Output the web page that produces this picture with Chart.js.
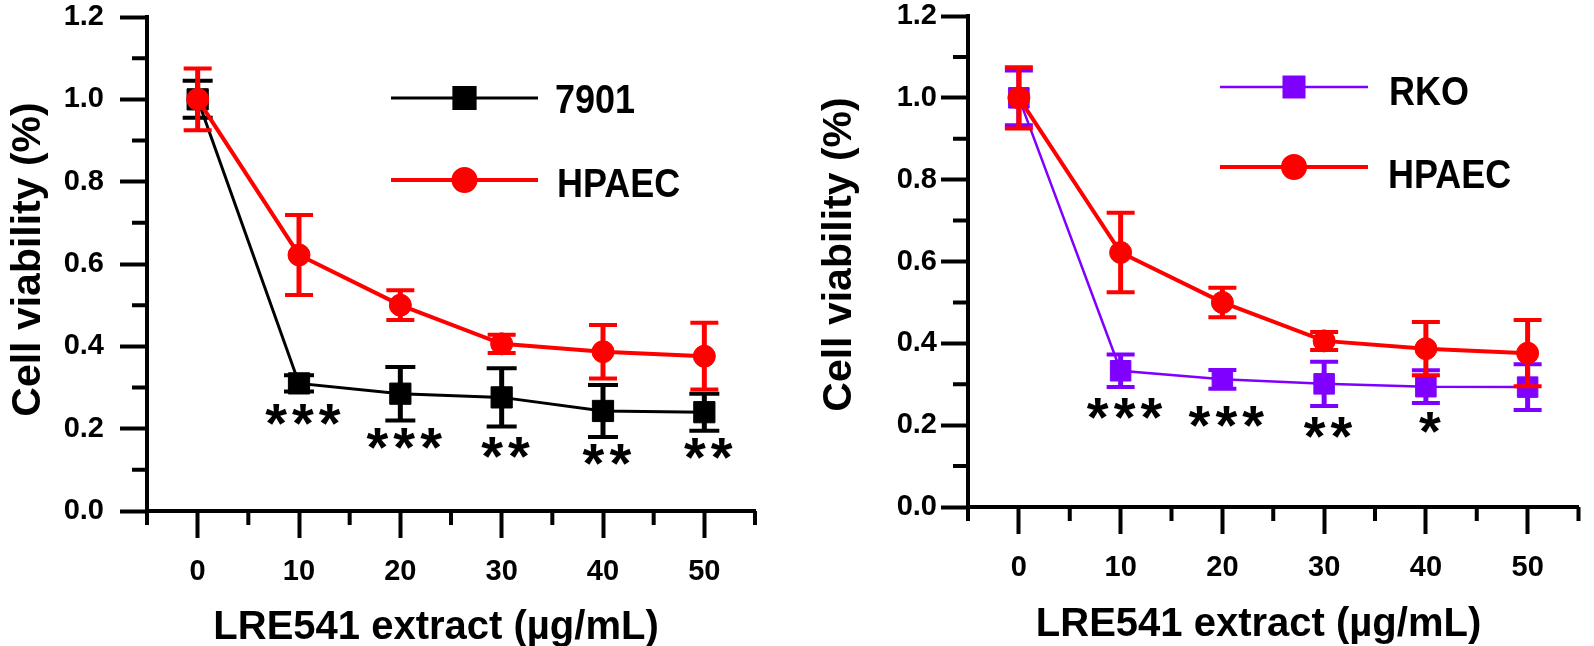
<!DOCTYPE html>
<html><head><meta charset="utf-8">
<script src="https://cdn.jsdelivr.net/npm/chart.js@4/dist/chart.umd.min.js"></script>
<style>
html,body{margin:0;padding:0;background:#fff;width:1594px;height:646px;overflow:hidden}
#w1{position:absolute;left:0;top:0;width:790px;height:646px}
#w2{position:absolute;left:790px;top:0;width:804px;height:646px}
canvas{display:block}
</style></head><body>
<div id="w1"><canvas id="c1" width="790" height="646"></canvas></div>
<div id="w2"><canvas id="c2" width="804" height="646"></canvas></div>
<script>
// ---- data ----
const doses = [0, 10, 20, 30, 40, 50];
const xTickValues = [0, 10, 20, 30, 40, 50];
const xMinorTicks = [-5, 5, 15, 25, 35, 45, 55];
const yTickValues = [0, 0.2, 0.4, 0.6, 0.8, 1.0, 1.2];
const yMinorTicks = [0.1, 0.3, 0.5, 0.7, 0.9, 1.1];

const v7901 = [1.00, 0.310, 0.285, 0.276, 0.243, 0.240];
const e7901 = [0.045, 0.020, 0.065, 0.071, 0.063, 0.045];
const vHPAEC = [1.00, 0.622, 0.500, 0.406, 0.387, 0.376];
const eHPAEC = [0.075, 0.097, 0.036, 0.022, 0.065, 0.081];
const vRKO = [1.00, 0.333, 0.312, 0.301, 0.294, 0.293];
const eRKO = [0.067, 0.040, 0.023, 0.054, 0.040, 0.056];

const sigLeft = ['', '***', '***', '**', '**', '**'];
const sigLeftY = [null, 0.234, 0.177, 0.154, 0.137, 0.152];
const sigRight = ['', '***', '***', '**', '*', ''];
const sigRightY = [null, 0.240, 0.220, 0.194, 0.207, null];

const xTitle = 'LRE541 extract (\u00b5g/mL)';
const yTitle = 'Cell viability (%)';

// ---- styling / drawing ----
const FONT = '"Liberation Sans", Arial, Helvetica, sans-serif';
const BLACK = '#000000', RED = '#ff0000', PURPLE = '#8000ff';

function pts(vals) { return doses.map((d, i) => ({x: d, y: vals[i]})); }

function series(label, vals, errs, color, style, radius, lw, capHalf) {
  return {
    label, data: pts(vals), errors: errs,
    borderColor: color, backgroundColor: color,
    pointBackgroundColor: color, pointBorderColor: color, pointBorderWidth: 1,
    pointStyle: style, pointRadius: radius, pointHoverRadius: radius,
    borderWidth: lw, tension: 0, showLine: true, clip: false,
    errStem: 5, errCap: 4, capHalf
  };
}

const extras = {
  id: 'extras',
  beforeDatasetDraw(chart, args) {
    const ds = chart.data.datasets[args.index];
    if (!ds.errors) return;
    const xs = chart.scales.x, ys = chart.scales.y, ctx = chart.ctx;
    ctx.save();
    ctx.strokeStyle = ds.borderColor;
    ds.data.forEach((p, i) => {
      const e = ds.errors[i];
      const px = xs.getPixelForValue(p.x);
      const yt = ys.getPixelForValue(p.y + e), yb = ys.getPixelForValue(p.y - e);
      ctx.lineWidth = ds.errStem;
      ctx.beginPath(); ctx.moveTo(px, yt); ctx.lineTo(px, yb); ctx.stroke();
      ctx.lineWidth = ds.errCap;
      ctx.beginPath();
      ctx.moveTo(px - ds.capHalf, yt); ctx.lineTo(px + ds.capHalf, yt);
      ctx.moveTo(px - ds.capHalf, yb); ctx.lineTo(px + ds.capHalf, yb);
      ctx.stroke();
    });
    ctx.restore();
  },
  afterDraw(chart, args, opts) {
    const ctx = chart.ctx, xs = chart.scales.x, ys = chart.scales.y;
    const ca = chart.chartArea;
    ctx.save();
    // minor ticks
    ctx.strokeStyle = BLACK; ctx.lineWidth = 4;
    ctx.beginPath();
    xMinorTicks.forEach(v => { const px = xs.getPixelForValue(v); ctx.moveTo(px, ca.bottom); ctx.lineTo(px, ca.bottom + 14); });
    yMinorTicks.forEach(v => { const py = ys.getPixelForValue(v); ctx.moveTo(ca.left, py); ctx.lineTo(ca.left - 15, py); });
    ctx.stroke();
    // axis titles
    ctx.fillStyle = BLACK;
    ctx.textAlign = 'center'; ctx.textBaseline = 'alphabetic';
    ctx.font = 'bold 40px ' + FONT;
    ctx.fillText(xTitle, opts.xtX, opts.xtY);
    ctx.save();
    ctx.translate(opts.ytX, opts.ytY);
    ctx.rotate(-Math.PI / 2);
    ctx.font = 'bold 41px ' + FONT;
    ctx.fillText(yTitle, 0, 0);
    ctx.restore();
    // significance marks
    ctx.font = 'bold 56px ' + FONT;
    ctx.letterSpacing = '5px';
    ctx.textAlign = 'left'; ctx.textBaseline = 'alphabetic';
    opts.sig.forEach((s, i) => {
      if (!s) return;
      const m = ctx.measureText(s);
      const cx = xs.getPixelForValue(doses[i]) + opts.sigDx;
      const cy = ys.getPixelForValue(opts.sigY[i]);
      const w = m.actualBoundingBoxLeft + m.actualBoundingBoxRight;
      const x0 = cx - w / 2 + m.actualBoundingBoxLeft;
      const by = cy + (m.actualBoundingBoxAscent - m.actualBoundingBoxDescent) / 2;
      ctx.fillText(s, x0, by);
    });
    ctx.letterSpacing = '0px';
    // legend
    opts.legend.forEach(item => {
      const ds = chart.data.datasets[item.index];
      ctx.strokeStyle = ds.borderColor; ctx.lineWidth = ds.borderWidth;
      ctx.beginPath(); ctx.moveTo(item.x0, item.y); ctx.lineTo(item.x1, item.y); ctx.stroke();
      ctx.fillStyle = ds.pointBackgroundColor;
      Chart.helpers.drawPoint(ctx, {pointStyle: ds.pointStyle, radius: ds.pointRadius, borderWidth: 1}, (item.x0 + item.x1) / 2, item.y);
      ctx.fill();
      ctx.fillStyle = BLACK;
      ctx.font = 'bold 36px ' + FONT;
      ctx.textAlign = 'left'; ctx.textBaseline = 'alphabetic';
      ctx.save();
      ctx.translate(item.tx, item.ty + 13);
      ctx.scale(1, 1.14);
      ctx.fillText(ds.label, 0, 0);
      ctx.restore();
    });
    ctx.restore();
  }
};

function makeChart(id, datasets, cfg) {
  return new Chart(document.getElementById(id), {
    type: 'line',
    data: {datasets},
    plugins: [extras],
    options: {
      responsive: false, animation: false, events: [],
      layout: {padding: {left: 0, top: cfg.top, right: cfg.right, bottom: 0}},
      plugins: {
        legend: {display: false}, tooltip: {enabled: false},
        extras: {sig: cfg.sig, sigY: cfg.sigY, sigDx: cfg.sigDx, legend: cfg.legend,
                 xtX: cfg.xtX, xtY: cfg.xtY, ytX: cfg.ytX, ytY: cfg.ytY}
      },
      scales: {
        x: {
          type: 'linear', position: 'bottom', min: -5, max: 55,
          afterBuildTicks: s => { s.ticks = xTickValues.map(v => ({value: v})); },
          afterFit: s => { s.height = cfg.xh; s.paddingLeft = 0; s.paddingRight = 0; },
          grid: {drawOnChartArea: false, drawTicks: true, tickLength: 27, tickWidth: 4, tickColor: BLACK},
          border: {display: true, width: 4, color: BLACK},
          ticks: {autoSkip: false, maxRotation: 0, padding: 19, color: BLACK,
                  font: {family: FONT, size: 29, weight: 'bold', lineHeight: 1},
                  callback: v => String(v)},
          title: {display: false}
        },
        y: {
          type: 'linear', position: 'left', min: 0, max: 1.2,
          afterBuildTicks: s => { s.ticks = yTickValues.map(v => ({value: v})); },
          afterFit: s => { s.width = cfg.yw; s.paddingTop = 0; s.paddingBottom = 0; },
          grid: {drawOnChartArea: false, drawTicks: true, tickLength: 27, tickWidth: 4, tickColor: BLACK},
          border: {display: true, width: 4, color: BLACK},
          ticks: {autoSkip: false, padding: cfg.yPad, color: BLACK,
                  font: {family: FONT, size: 29, weight: 'bold', lineHeight: 1},
                  callback: v => v.toFixed(1)},
          title: {display: false}
        }
      }
    }
  });
}

Chart.defaults.font.family = FONT;

makeChart('c1', [
  series('HPAEC', vHPAEC, eHPAEC, RED, 'circle', 11, 4, 14),
  series('7901', v7901, e7901, BLACK, 'rect', 15, 3, 15)
], {
  top: 17, right: 35, xh: 135, yw: 147, yPad: 16,
  xtX: 436, xtY: 639, ytX: 39.5, ytY: 259.5,
  sig: sigLeft, sigY: sigLeftY, sigDx: 4,
  legend: [
    {index: 1, x0: 391, x1: 538, y: 98, tx: 555, ty: 100},
    {index: 0, x0: 391, x1: 538, y: 180, tx: 557, ty: 184}
  ]
});

makeChart('c2', [
  series('HPAEC', vHPAEC, eHPAEC, RED, 'circle', 11, 4, 14),
  series('RKO', vRKO, eRKO, PURPLE, 'rect', 14.5, 2.5, 14)
], {
  top: 16, right: 5, xh: 139, yw: 178, yPad: 4,
  xtX: 468.5, xtY: 636, ytX: 60.5, ytY: 254.5,
  sig: sigRight, sigY: sigRightY, sigDx: 4,
  legend: [
    {index: 1, x0: 430, x1: 578, y: 87, tx: 599, ty: 92},
    {index: 0, x0: 430, x1: 578, y: 167, tx: 598, ty: 175}
  ]
});
</script>
</body></html>
